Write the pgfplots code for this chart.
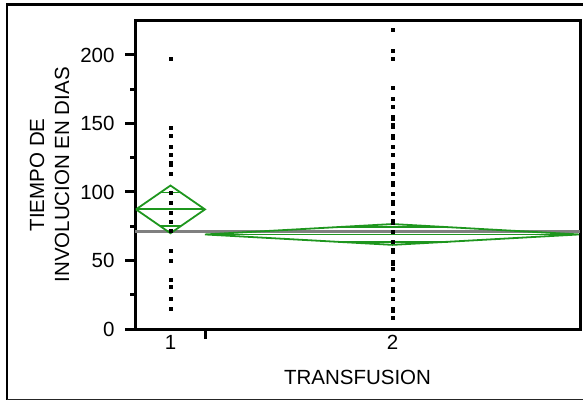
\documentclass[border=0pt]{standalone}
\usepackage{fontspec}
\setmainfont{Liberation Sans}
\usepackage{pgfplots}
\pgfplotsset{compat=1.18}
\definecolor{jmpgreen}{RGB}{30,150,30}
\definecolor{jmpgray}{RGB}{128,128,128}
\begin{document}
\begin{tikzpicture}
\useasboundingbox (0pt,0pt) rectangle (583pt,400pt);
\draw[line width=3pt] (6pt,395.5pt) -- (583pt,395.5pt);
\draw[line width=2.5pt] (7pt,0.5pt) -- (7pt,396.5pt);
\draw[line width=1pt, color=black!85] (7pt,1pt) -- (583pt,1pt);
\draw[line width=3pt] (135pt,71pt) rectangle (580pt,379.3pt);
\begin{axis}[
  at={(135pt,71pt)}, anchor=south west,
  width=445pt, height=308.3pt, scale only axis,
  xmin=135, xmax=580, ymin=0, ymax=225,
  axis line style={line width=3pt, black},
  tick align=outside, tick pos=left,
  major tick length=10pt, minor tick length=5pt,
  tick style={line width=3pt, black},
  ytick={0,50,100,150,200},
  minor ytick={25,75,125,175},
  xtick={205}, xticklabels={},
  extra x ticks={170.5,392.5}, extra x tick labels={1,2},
  extra x tick style={major tick length=0pt, xticklabel style={yshift=-3pt}},
  yticklabel style={xshift=-7pt},
  /pgf/number format/assume math mode=true,
  tick label style={font=\fontsize{20.5}{24}\selectfont},
  label style={font=\fontsize{20.5}{25}\selectfont},
  ylabel={TIEMPO DE\\INVOLUCION EN DIAS},
  ylabel style={at={(axis description cs:-0.192,0.5)}, anchor=center, align=center},
  xlabel={TRANSFUSION},
  xlabel style={at={(axis description cs:0.5,-0.156)}, anchor=center},
  clip=false,
]
% grand mean
\addplot[jmpgray, line width=2.6pt] coordinates {(135,71.0) (580,71.0)};
% group 1 means diamond
\addplot[jmpgreen, line width=1.8pt] coordinates {(136,87.3) (170.5,104.7) (205,87.3) (170.5,69.9) (136,87.3)};
\addplot[jmpgreen, line width=1.8pt] coordinates {(136,87.3) (205,87.3)};
\addplot[jmpgreen, line width=1.8pt] coordinates {(160.4,99.6) (180.6,99.6)};
\addplot[jmpgreen, line width=1.8pt] coordinates {(160.4,75.0) (180.6,75.0)};
% group 2 means diamond
\addplot[jmpgreen, line width=1.8pt] coordinates {(205,69.0) (392.5,76.6) (579,69.0) (392.5,61.4) (205,69.0)};
\addplot[jmpgreen, line width=1.8pt] coordinates {(205,69.0) (579,69.0)};
\addplot[jmpgreen, line width=1.8pt] coordinates {(337.5,74.4) (447.5,74.4)};
\addplot[jmpgreen, line width=1.8pt] coordinates {(337.5,63.6) (447.5,63.6)};
% points group 1
\addplot[only marks, mark=square*, mark size=1.5pt, black, mark options={line width=0pt}] coordinates {
(171,197.1) (171,146.9) (171,140.7) (171,133.1) (171,127.0) (171,121.4) (171,119.7)
(171,112.9) (171,99.5) (171,91.8) (171,84.5) (171,78.1) (171,71.5) (171,56.9)
(171,49.6) (171,35.8) (171,30.4) (171,21.9) (171,14.4)};
% points group 2
\addplot[only marks, mark=square*, mark size=1.5pt, black, mark options={line width=0pt}] coordinates {
(393,218.2) (393,203.1) (393,197.1) (393,175.7) (393,167.9) (393,161.8) (393,155.0)
(393,153.5) (393,148.9) (393,147.4) (393,141.1) (393,139.6) (393,133.1) (393,127.0)
(393,119.7) (393,118.2) (393,113.1) (393,106.3) (393,104.8) (393,98.5) (393,92.9)
(393,91.4) (393,84.5) (393,78.8) (393,77.3) (393,70.8) (393,63.7) (393,57.7)
(393,56.2) (393,48.7) (393,47.2) (393,43.6) (393,35.8) (393,29.0) (393,27.5)
(393,21.7) (393,14.8) (393,13.3) (393,8.0)};
\end{axis}
\end{tikzpicture}
\end{document}
